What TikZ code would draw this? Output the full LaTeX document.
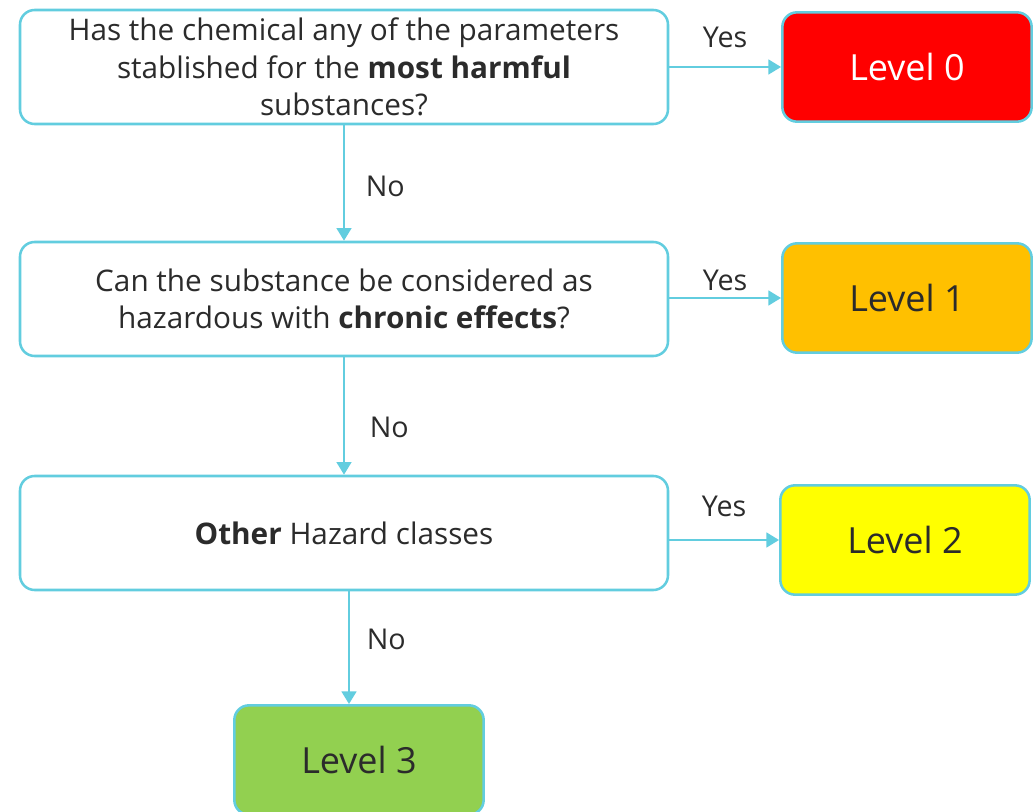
\documentclass[tikz,border=0pt]{standalone}
\usepackage{fontspec}
\setmainfont{Open Sans}
\usetikzlibrary{arrows.meta}

\definecolor{edgecyan}{HTML}{62CDDF}
\definecolor{textgray}{HTML}{2B2B2B}
\definecolor{lvlred}{HTML}{FF0000}
\definecolor{lvlorange}{HTML}{FFC000}
\definecolor{lvlyellow}{HTML}{FFFF00}
\definecolor{lvlgreen}{HTML}{92D050}

\tikzset{
  question/.style={draw=edgecyan, line width=1.9pt, fill=white, rounded corners=11pt,
    minimum width=486pt, minimum height=85.5pt, align=center, text=textgray,
    font=\fontsize{22.3}{28}\selectfont},
  levelbox/.style={draw=edgecyan, line width=1.9pt, rounded corners=11pt,
    minimum width=187pt, minimum height=82pt, text=textgray,
    font=\fontsize{27}{30}\selectfont},
  flow/.style={draw=edgecyan, line width=1.9pt, ->},
  answer/.style={text=textgray, font=\fontsize{21.5}{24}\selectfont, inner sep=0pt}
}

\begin{document}
\begin{tikzpicture}[x=0.75pt, y=-0.75pt, >={Triangle[width=11pt, length=9.5pt]}]
  \useasboundingbox (0,0) rectangle (1033,812);

  % Questions
  \node[question] (q0) at (344,67) {Has the chemical any of the parameters\\stablished for the \textbf{most harmful}\\substances?};
  \node[question] (q1) at (344,299) {Can the substance be considered as\\hazardous with \textbf{chronic effects}?};
  \node[question] (q2) at (344,533) {\textbf{Other} Hazard classes};

  % Levels
  \node[levelbox, fill=lvlred, text=white] (l0) at (907,67) {Level 0};
  \node[levelbox, fill=lvlorange] (l1) at (907,298) {Level 1};
  \node[levelbox, fill=lvlyellow] (l2) at (905,540) {Level 2};
  \node[levelbox, fill=lvlgreen] (l3) at (359,760) {Level 3};

  % Yes branches
  \draw[flow] (q0.east |- l0.west) -- (l0.west)
    node[answer, pos=0.5, yshift=22.5pt] (y0) {Yes};
  \draw[flow] (q1.east |- l1.west) -- (l1.west)
    node[answer, pos=0.5, yshift=13.5pt] (y1) {Yes};
  \draw[flow] (q2.east |- l2.west) -- (l2.west)
    node[answer, pos=0.5, yshift=25pt] (y2) {Yes};

  % No branches
  \draw[flow] (q0.south) -- (q1.north)
    node[answer, pos=0.53, xshift=31pt] (n0) {No};
  \draw[flow] (q1.south) -- (q2.north)
    node[answer, pos=0.6, xshift=34pt] (n1) {No};
  \draw[flow] ([xshift=3.75pt]q2.south) -- ([xshift=3.75pt]q2.south |- l3.north)
    node[answer, pos=0.43, xshift=28pt] (n2) {No};
\end{tikzpicture}
\end{document}
